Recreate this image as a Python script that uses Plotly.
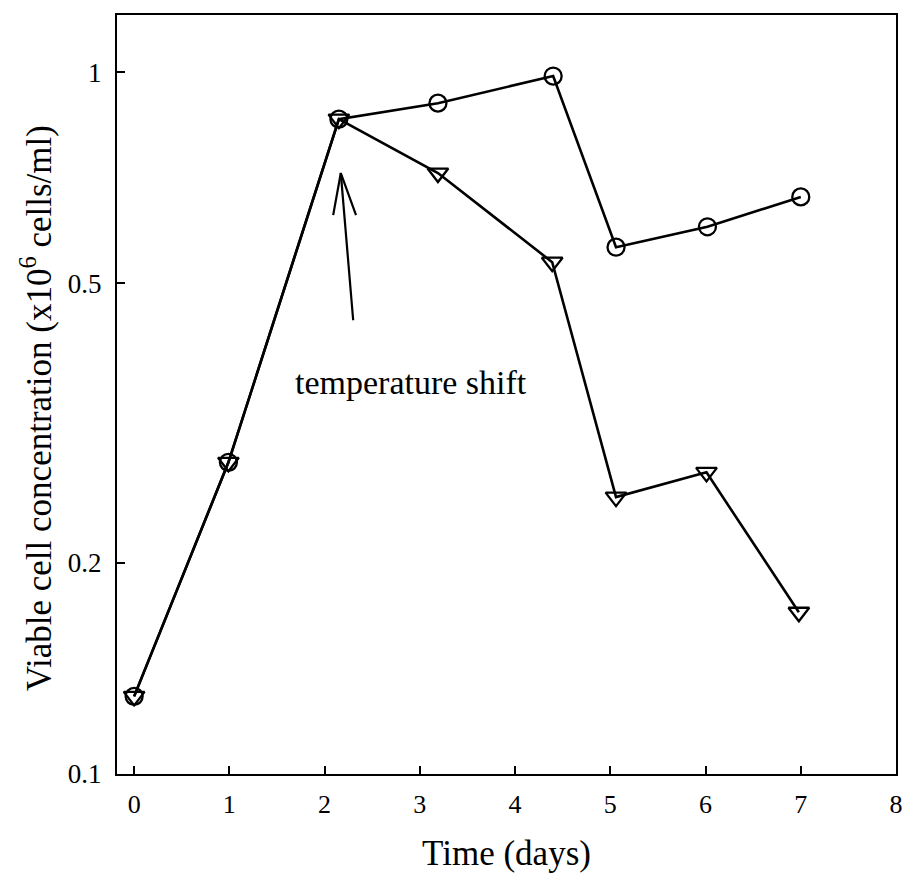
import plotly.graph_objects as go
import math

days_circle = [0, 0.99, 2.15, 3.19, 4.40, 5.06, 6.02, 7.0]
conc_circle = [0.129, 0.278, 0.857, 0.903, 0.987, 0.563, 0.602, 0.664]
days_tri = [0, 0.99, 2.15, 3.19, 4.39, 5.06, 6.01, 6.98]
conc_tri = [0.129, 0.278, 0.857, 0.718, 0.536, 0.248, 0.269, 0.170]

x_ticks = [0, 1, 2, 3, 4, 5, 6, 7, 8]
y_ticks = [0.1, 0.2, 0.5, 1]
y_ticklabels = ["0.1", "0.2", "0.5", "1"]

# arrow (shaft + open V head)
arrow_x = [2.30, 2.17, None, 2.09, 2.17, 2.33]
arrow_y = [0.443, 0.718, None, 0.6255, 0.718, 0.6255]

FONT = "Liberation Serif"

fig = go.Figure()
fig.add_trace(go.Scatter(
    x=days_circle, y=conc_circle, mode="lines+markers",
    line=dict(color="black", width=2.6),
    marker=dict(symbol="circle-open", size=17, color="black", line=dict(width=2.3)),
    showlegend=False))
fig.add_trace(go.Scatter(
    x=days_tri, y=conc_tri, mode="lines+markers",
    line=dict(color="black", width=2.6),
    marker=dict(symbol="triangle-down-open", size=18, color="black", line=dict(width=2.3)),
    showlegend=False))
fig.add_trace(go.Scatter(
    x=arrow_x, y=arrow_y, mode="lines",
    line=dict(color="black", width=2.2), showlegend=False, hoverinfo="skip"))

fig.add_annotation(x=2.91, y=math.log10(0.361), xref="x", yref="y",
                   text="temperature shift", showarrow=False,
                   font=dict(family=FONT, size=34, color="black"))

fig.add_annotation(x=-0.104, y=0.482, xref="paper", yref="paper",
                   xanchor="center", yanchor="middle",
                   text="Viable cell concentration (x10<sup>6</sup> cells/ml)",
                   textangle=-90, showarrow=False,
                   font=dict(family=FONT, size=35, color="black"))

fig.update_layout(
    width=907, height=874,
    margin=dict(l=117, r=4, t=15, b=100),
    plot_bgcolor="white", paper_bgcolor="white",
    font=dict(family=FONT, color="black"),
)
fig.update_xaxes(
    range=[-0.18, 8.0], tickvals=x_ticks, ticks="inside", ticklen=8, tickwidth=2,
    tickcolor="black", showline=True, linecolor="black", linewidth=2, mirror=True,
    showgrid=False, zeroline=False, tickfont=dict(family=FONT, size=26),
    ticklabelstandoff=6, ticklabeloverflow="allow",
    title=dict(text="Time (days)", font=dict(family=FONT, size=35), standoff=22),
)
fig.update_yaxes(
    type="log", range=[-1, 0.0813], tickvals=y_ticks, ticktext=y_ticklabels,
    ticks="inside", ticklen=8, tickwidth=2, tickcolor="black",
    showline=True, linecolor="black", linewidth=2, mirror=True,
    showgrid=False, zeroline=False, tickfont=dict(family=FONT, size=27),
    ticklabelstandoff=8,
)

fig.write_html("out.html")
